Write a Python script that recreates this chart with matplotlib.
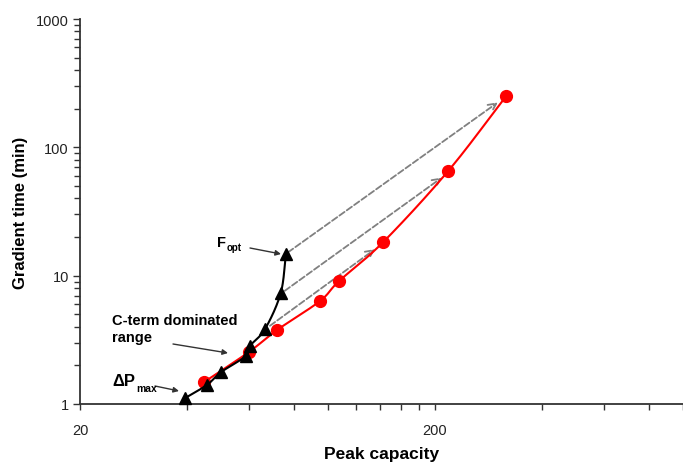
import numpy as np
import matplotlib
matplotlib.use("Agg")
import matplotlib.pyplot as plt
from matplotlib.ticker import FixedLocator, NullFormatter, FixedFormatter

# ---- data ----
red_x = [44.7, 59.8, 71.8, 94.8, 107.3, 142.8, 217.6, 317.0]
red_y = [1.48, 2.54, 3.77, 6.33, 9.06, 18.2, 65.0, 249.0]

tri_x = [39.5, 45.6, 49.9, 58.6, 60.2, 66.4, 73.5, 76.1]
tri_y = [1.11, 1.41, 1.77, 2.36, 2.83, 3.83, 7.27, 14.7]

# dashed arrows: (start_x, start_y, end_x, end_y)
arr_start_x = [77.1, 75.5, 68.6]
arr_start_y = [15.2, 7.62, 4.07]
arr_end_x = [300.8, 209.2, 135.6]
arr_end_y = [224.0, 58.1, 16.1]

x_major = [20, 200]
x_minor = [40, 60, 80, 100, 120, 140, 160, 180, 400, 600, 800, 1000]
y_major = [1, 10, 100, 1000]


def smooth(xs, ys, n=20):
    """Catmull-Rom smoothing in log space (like a smoothed line)."""
    lx, ly = np.log10(xs), np.log10(ys)
    P = np.column_stack([lx, ly])
    P = np.vstack([P[0] - (P[1] - P[0]), P, P[-1] + (P[-1] - P[-2])])
    out = []
    for i in range(1, len(P) - 2):
        p0, p1, p2, p3 = P[i - 1], P[i], P[i + 1], P[i + 2]
        t = np.linspace(0, 1, n)[:, None]
        seg = 0.5 * ((2 * p1) + (-p0 + p2) * t + (2 * p0 - 5 * p1 + 4 * p2 - p3) * t ** 2
                     + (-p0 + 3 * p1 - 3 * p2 + p3) * t ** 3)
        out.append(seg if i == 1 else seg[1:])
    out = np.vstack(out)
    return 10 ** out[:, 0], 10 ** out[:, 1]


plt.rcParams['font.family'] = ['Liberation Sans', 'DejaVu Sans']

fig = plt.figure(figsize=(6.83, 4.64), dpi=100)
ax = fig.add_axes([80 / 683, 1 - 405 / 464, 603 / 683, (405 - 20) / 464])
ax.set_xscale('log')
ax.set_yscale('log')
ax.set_xlim(20, 1000)
ax.set_ylim(1, 1000)

# red series
sx, sy = smooth(red_x, red_y)
ax.plot(sx, sy, color='#ff0000', lw=1.5, zorder=3)
ax.plot(red_x, red_y, 'o', color='#ff0000', ms=8.5, mec='#ff0000', zorder=4, clip_on=False)

# black series
bx, by = smooth(tri_x, tri_y)
ax.plot(bx, by, color='black', lw=1.5, zorder=5)
ax.plot(tri_x, tri_y, '^', color='black', ms=8, zorder=6, clip_on=False)

# dashed gray arrows
for x0, y0, x1, y1 in zip(arr_start_x, arr_start_y, arr_end_x, arr_end_y):
    ax.annotate('', xy=(x1, y1), xytext=(x0, y0),
                arrowprops=dict(arrowstyle='->', color='#808080', lw=1.3,
                                linestyle=(0, (3.5, 1.5)), mutation_scale=14,
                                shrinkA=0, shrinkB=0), zorder=2)

# annotations (positions in pixel space of the figure)
def px(x, y):
    return (x / 683, 1 - y / 464)

fs = 10.5
fig.text(*px(217, 243), r'F', fontsize=fs, fontweight='bold', va='center', ha='left')
fig.text(*px(227, 248), 'opt', fontsize=7, fontweight='bold', va='center', ha='left')
ax.annotate('', xy=px(281, 255), xytext=px(250, 249), xycoords='figure fraction',
            textcoords='figure fraction',
            arrowprops=dict(arrowstyle='-|>', color='#333333', lw=1.0, mutation_scale=8,
                            shrinkA=0, shrinkB=0))

fig.text(*px(112, 321), 'C-term dominated', fontsize=fs, fontweight='bold', va='center', ha='left')
fig.text(*px(112, 338), 'range', fontsize=fs, fontweight='bold', va='center', ha='left')
ax.annotate('', xy=px(228, 354), xytext=px(173, 345), xycoords='figure fraction',
            textcoords='figure fraction',
            arrowprops=dict(arrowstyle='-|>', color='#333333', lw=1.0, mutation_scale=8,
                            shrinkA=0, shrinkB=0))

fig.text(*px(112, 382), '\u0394P', fontsize=12, fontweight='bold', va='center', ha='left')
fig.text(*px(136, 389), 'max', fontsize=7.5, fontweight='bold', va='center', ha='left')
ax.annotate('', xy=px(179, 392), xytext=px(155, 387), xycoords='figure fraction',
            textcoords='figure fraction',
            arrowprops=dict(arrowstyle='-|>', color='#333333', lw=1.0, mutation_scale=8,
                            shrinkA=0, shrinkB=0))

# axes styling
for s in ['top', 'right']:
    ax.spines[s].set_visible(False)
for s in ['left', 'bottom']:
    ax.spines[s].set_color('#333333')
    ax.spines[s].set_linewidth(1.3)

ax.xaxis.set_major_locator(FixedLocator(x_major))
ax.xaxis.set_major_formatter(FixedFormatter([str(v) for v in x_major]))
ax.xaxis.set_minor_locator(FixedLocator(x_minor))
ax.xaxis.set_minor_formatter(NullFormatter())
ax.yaxis.set_major_locator(FixedLocator(y_major))
ax.yaxis.set_major_formatter(FixedFormatter([str(v) for v in y_major]))
ax.yaxis.set_minor_locator(FixedLocator([m * 10 ** e for e in range(0, 3) for m in range(2, 10)]))
ax.yaxis.set_minor_formatter(NullFormatter())

ax.tick_params(which='both', direction='out', color='#333333', width=1.0,
               labelsize=10.5, labelcolor='#222222')
ax.tick_params(axis='x', which='major', length=4, pad=10)
ax.tick_params(axis='x', which='minor', length=4)
ax.tick_params(axis='y', which='major', length=5, pad=3)
ax.tick_params(axis='y', which='minor', length=4)

ax.set_xlabel('Peak capacity', fontsize=12.5, fontweight='bold', labelpad=6)
ax.set_ylabel('Gradient time (min)', fontsize=12, fontweight='bold', labelpad=6)

fig.savefig('out.png', dpi=100)
